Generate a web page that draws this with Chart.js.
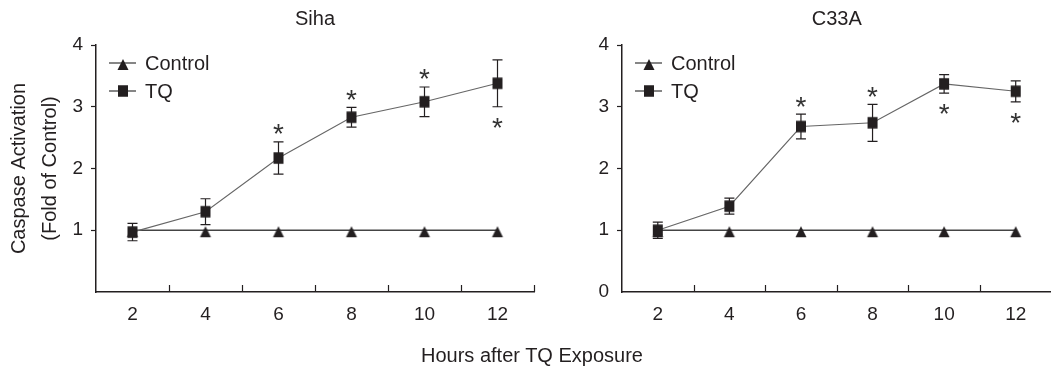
<!DOCTYPE html>
<html>
<head>
<meta charset="utf-8">
<script src="https://cdn.jsdelivr.net/npm/chart.js@4.4.1/dist/chart.umd.min.js"></script>
<style>
  body { margin: 0; background: #fff; overflow: hidden; }
  #wrap { position: relative; width: 1051px; height: 370px; overflow: hidden; }
  #left { position: absolute; left: 0; top: 0; }
  #right { position: absolute; left: 545px; top: 0; }
  #xtitle { position: absolute; left: 332px; width: 400px; top: 343px; text-align: center;
    font: 20px 'Liberation Sans', Arial, sans-serif; color: #231f20; line-height: 24px; }
</style>
</head>
<body>
<div id="wrap">
  <canvas id="left" width="545" height="370"></canvas>
  <canvas id="right" width="515" height="370"></canvas>
  <div id="xtitle">Hours after TQ Exposure</div>
</div>
<script>
// data
var hours = [2, 4, 6, 8, 10, 12];
var sihaTQ = [0.97, 1.30, 2.17, 2.83, 3.08, 3.38];
var sihaTQErr = [0.14, 0.21, 0.26, 0.16, 0.24, 0.38];
var sihaControl = [1, 1, 1, 1, 1, 1];
var sihaStars = [null, null, 'above', 'above', 'above', 'below'];

var c33aTQ = [1.00, 1.39, 2.68, 2.74, 3.37, 3.25];
var c33aTQErr = [0.13, 0.13, 0.20, 0.30, 0.15, 0.17];
var c33aControl = [1, 1, 1, 1, 1, 1];
var c33aStars = [null, null, 'above', 'above', 'below', 'below'];

var minorTicks = [3, 5, 7, 9, 11, 13];
var yTicks = [0, 1, 2, 3, 4];

var ink = '#231f20';
Chart.defaults.font.family = "'Liberation Sans', Arial, sans-serif";
Chart.defaults.color = ink;

// markers as small images: the squares are a bit taller than wide,
// the triangles sit slightly below the line
function marker(kind) {
  var c = document.createElement('canvas');
  c.width = 14; c.height = 24;
  var g = c.getContext('2d');
  g.fillStyle = ink;
  if (kind === 'rect') {
    g.fillRect(2, 6.25, 10, 11.5);
  } else {
    g.beginPath();
    g.moveTo(7, 8);
    g.lineTo(12.5, 19);
    g.lineTo(1.5, 19);
    g.closePath();
    g.fill();
  }
  return c;
}
var squareImg = marker('rect');
var triangleImg = marker('triangle');

function pts(ys) {
  return hours.map(function (h, i) { return { x: h, y: ys[i] }; });
}

var extras = {
  id: 'extras',
  beforeDatasetsDraw: function (chart) {
    var o = chart.options.plugins.extras;
    var ctx = chart.ctx, ys = chart.scales.y;
    var meta = chart.getDatasetMeta(0);
    ctx.save();
    ctx.strokeStyle = ink;
    ctx.lineWidth = 1.2;
    meta.data.forEach(function (p, i) {
      var top = ys.getPixelForValue(o.values[i] + o.errors[i]);
      var bot = ys.getPixelForValue(o.values[i] - o.errors[i]);
      ctx.beginPath();
      ctx.moveTo(p.x, top); ctx.lineTo(p.x, bot);
      ctx.moveTo(p.x - 5, top); ctx.lineTo(p.x + 5, top);
      ctx.moveTo(p.x - 5, bot); ctx.lineTo(p.x + 5, bot);
      ctx.stroke();
    });
    ctx.restore();
  },
  afterDraw: function (chart) {
    var o = chart.options.plugins.extras;
    var ctx = chart.ctx, xs = chart.scales.x, ys = chart.scales.y;
    var area = chart.chartArea;
    ctx.save();
    // inward tick marks on the x axis
    ctx.strokeStyle = ink;
    ctx.lineWidth = 1.2;
    minorTicks.forEach(function (v) {
      var x = Math.round(xs.getPixelForValue(v)) + 0.5;
      ctx.beginPath();
      ctx.moveTo(x, area.bottom);
      ctx.lineTo(x, area.bottom - 7);
      ctx.stroke();
    });
    // significance stars
    ctx.fillStyle = '#333';
    ctx.font = "28px 'Liberation Sans', Arial, sans-serif";
    ctx.textAlign = 'center';
    ctx.textBaseline = 'alphabetic';
    var m = ctx.measureText('*');
    var shift = (m.actualBoundingBoxAscent - m.actualBoundingBoxDescent) / 2;
    var meta = chart.getDatasetMeta(0);
    o.stars.forEach(function (s, i) {
      if (!s) return;
      var x = meta.data[i].x, cy;
      if (s === 'above') cy = ys.getPixelForValue(o.values[i] + o.errors[i]) - 12.5;
      else cy = ys.getPixelForValue(o.values[i] - o.errors[i]) + 16;
      ctx.fillText('*', x, cy + shift);
    });
    // legend
    var rows = [{ label: 'Control', img: triangleImg, dy: 18 }, { label: 'TQ', img: squareImg, dy: 46 }];
    rows.forEach(function (r) {
      var y = area.top + r.dy;
      var x0 = area.left;
      ctx.strokeStyle = '#444';
      ctx.lineWidth = 1.3;
      ctx.beginPath();
      ctx.moveTo(x0 + 13, y); ctx.lineTo(x0 + 40, y);
      ctx.stroke();
      ctx.drawImage(r.img, x0 + 27 - r.img.width / 2, y - r.img.height / 2);
      ctx.fillStyle = ink;
      ctx.font = "20px 'Liberation Sans', Arial, sans-serif";
      ctx.textAlign = 'left';
      ctx.textBaseline = 'middle';
      ctx.fillText(r.label, x0 + 49, y + 1);
    });
    ctx.restore();
  }
};

function makeChart(id, title, tq, tqErr, control, stars, showZero, yWidth, showYTitle, padRight) {
  return new Chart(document.getElementById(id), {
    type: 'line',
    data: {
      datasets: [{
        label: 'TQ',
        data: pts(tq),
        borderColor: '#666',
        borderWidth: 1.1,
        pointStyle: squareImg,
        pointRadius: 7,
        tension: 0
      }, {
        label: 'Control',
        data: pts(control),
        borderColor: '#444',
        borderWidth: 1.5,
        pointStyle: triangleImg,
        pointRadius: 7,
        tension: 0
      }]
    },
    options: {
      responsive: false,
      animation: false,
      layout: { padding: { left: 0, right: padRight, top: 0, bottom: 0 } },
      scales: {
        x: {
          type: 'linear',
          min: 1,
          max: 13,
          afterFit: function (s) { s.height = 78; s.paddingRight = 0; s.paddingLeft = 0; },
          afterBuildTicks: function (s) {
            s.ticks = [];
            for (var v = 1; v <= 13; v++) s.ticks.push({ value: v });
          },
          ticks: {
            autoSkip: false,
            maxRotation: 0,
            padding: 11,
            font: { size: 19 },
            callback: function (v) { return hours.indexOf(v) >= 0 ? String(v) : ''; }
          },
          grid: { drawOnChartArea: false, drawTicks: false },
          border: { color: ink, width: 1.5 }
        },
        y: {
          min: 0,
          max: 4,
          afterFit: function (s) { s.width = yWidth; },
          afterBuildTicks: function (s) {
            s.ticks = yTicks.map(function (v) { return { value: v }; });
          },
          ticks: {
            padding: 8,
            font: { size: 19 },
            callback: function (v) { return (v === 0 && !showZero) ? '' : String(v); }
          },
          grid: {
            drawOnChartArea: false,
            tickLength: 5,
            tickWidth: 1.2,
            tickColor: function (c) { return c.tick && c.tick.value === 0 ? 'rgba(0,0,0,0)' : ink; }
          },
          border: { color: ink, width: 1.5 },
          title: {
            display: showYTitle,
            text: ['Caspase Activation', '(Fold of Control)'],
            font: { size: 20, lineHeight: 1.55 },
            padding: { top: 4, bottom: 0 },
            color: ink
          }
        }
      },
      plugins: {
        legend: { display: false },
        tooltip: { enabled: false },
        title: {
          display: true,
          text: title,
          fullSize: false,
          font: { size: 20, weight: 'normal' },
          color: ink,
          padding: { top: 7, bottom: 14 }
        },
        extras: { values: tq, errors: tqErr, stars: stars }
      }
    },
    plugins: [extras]
  });
}

makeChart('left', 'Siha', sihaTQ, sihaTQErr, sihaControl, sihaStars, false, 96, true, 11);
makeChart('right', 'C33A', c33aTQ, c33aTQErr, c33aControl, c33aStars, true, 77, false, 0);
</script>
</body>
</html>
